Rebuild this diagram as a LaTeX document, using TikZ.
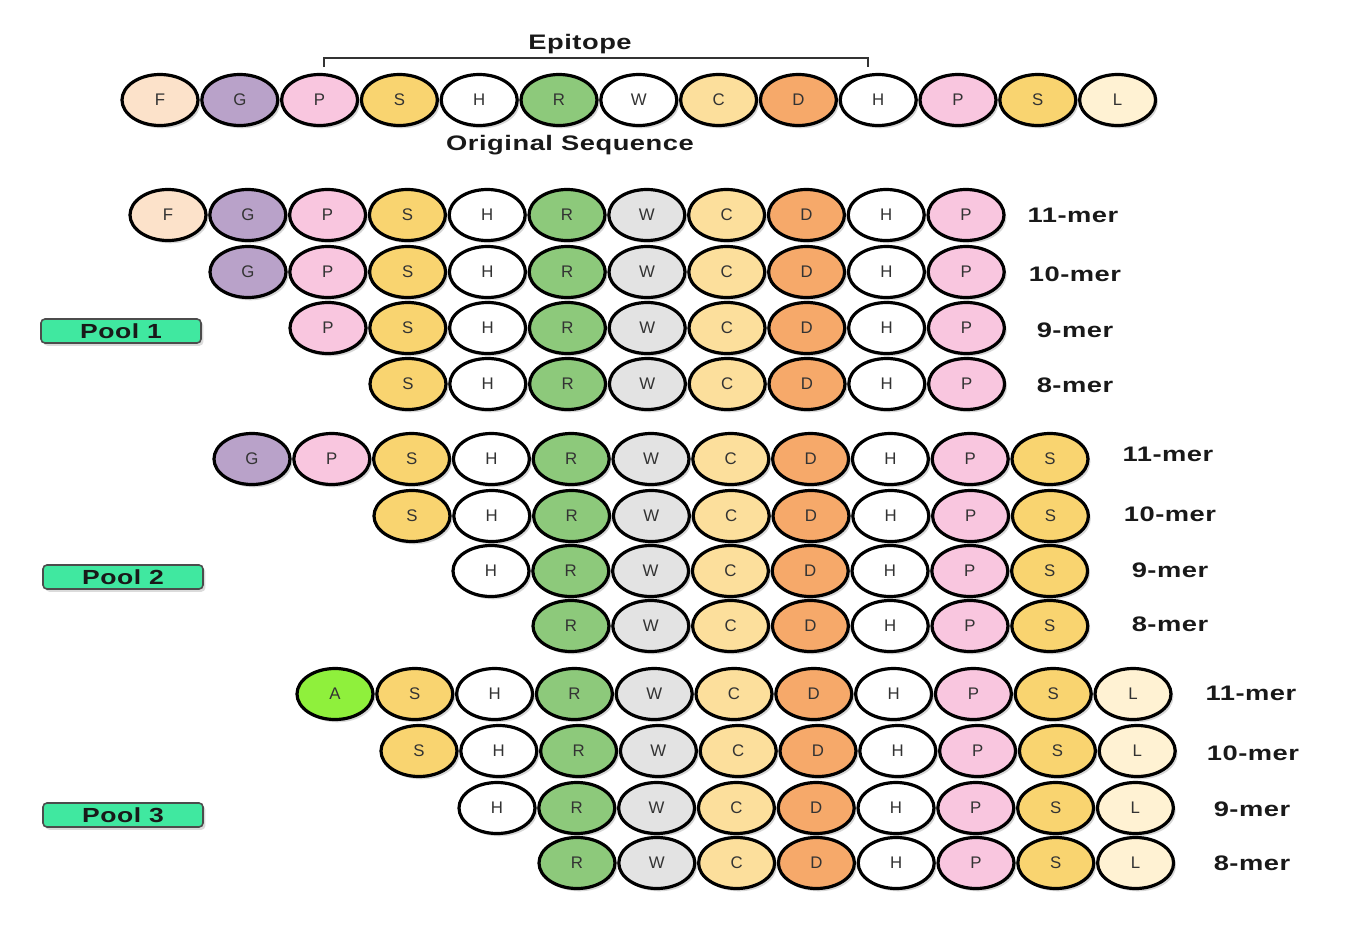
\documentclass[tikz,border=0pt]{standalone}
\usepackage{fontspec}
\setmainfont{Liberation Sans}
\newfontfamily\lblfont{Liberation Sans}[FakeStretch=1.3,LetterSpace=2.5]
\usetikzlibrary{shapes.geometric,shadows}
\definecolor{cF}{HTML}{FCE2CA}
\definecolor{cG}{HTML}{B9A2C9}
\definecolor{cP}{HTML}{F9C6DF}
\definecolor{cS}{HTML}{F9D470}
\definecolor{cH}{HTML}{FFFFFF}
\definecolor{cR}{HTML}{8DC97B}
\definecolor{cW}{HTML}{E3E3E3}
\definecolor{cC}{HTML}{FCDF9C}
\definecolor{cD}{HTML}{F6A96A}
\definecolor{cL}{HTML}{FFF2D3}
\definecolor{cA}{HTML}{8FF03C}
\definecolor{cpool}{HTML}{40E8A0}
\tikzset{
  aa/.style={ellipse, draw=black, line width=1.6pt, minimum width=38pt, minimum height=25.5pt,
    inner sep=0pt, font=\fontsize{8.4}{10}\selectfont, text=black!80,
    drop shadow={shadow xshift=1.2pt, shadow yshift=-1.4pt, opacity=0.22, fill=black!70}},
  mer/.style={font=\lblfont\bfseries\fontsize{10.5}{12}\selectfont, text=black!90, anchor=center},
  ttl/.style={font=\lblfont\bfseries\fontsize{10.5}{12}\selectfont, text=black!90},
  pool/.style={draw=black!70, line width=0.8pt, fill=cpool, rounded corners=2pt,
    minimum width=80pt, minimum height=12pt, inner sep=0pt,
    font=\lblfont\bfseries\fontsize{10.2}{11}\selectfont, text=black!90,
    drop shadow={shadow xshift=1.2pt, shadow yshift=-1.4pt, opacity=0.2, fill=black!70}},
  bracket/.style={draw=black!80, line width=0.6pt}
}
\newcommand\seqrow[4]{%
  \foreach \l [count=\i] in {#4}
    \node[aa, fill=c\l] (#1-\i) at ({#2+79.8*(\i-1)},#3) {\l};%
}
\begin{document}
\begin{tikzpicture}[x=0.5pt,y=-0.5pt]
\useasboundingbox[fill=white] (0,0) rectangle (1372,932);
% original sequence
\foreach \l/\c [count=\i] in {F/cF,G/cG,P/cP,S/cS,H/cH,R/cR,W/white,C/cC,D/cD,H/cH,P/cP,S/cS,L/cL}
  \node[aa, fill=\c] (o-\i) at ({160+79.8*(\i-1)},100) {\l};
\coordinate (bl) at (324,67);
\coordinate (br) at (868,67);
\draw[bracket] (bl) -- ++(0,-9) -| (br);
\node[ttl] (epi) at (580,44) {Epitope};
\node[ttl] (orig) at (570,145) {Original Sequence};
% pool 1
\seqrow{pa}{168}{215}{F,G,P,S,H,R,W,C,D,H,P}
\seqrow{pb}{248}{272}{G,P,S,H,R,W,C,D,H,P}
\seqrow{pc}{328}{328}{P,S,H,R,W,C,D,H,P}
\seqrow{pd}{408}{384}{S,H,R,W,C,D,H,P}
\node[mer] (la) at (1073,215) {11-mer};
\node[mer] (lb) at (1075,274) {10-mer};
\node[mer] (lc) at (1075,330) {9-mer};
\node[mer] (ld) at (1075,385) {8-mer};
\node[pool] (pool1) at (121,331) {Pool 1};
% pool 2
\seqrow{qa}{252}{459}{G,P,S,H,R,W,C,D,H,P,S}
\seqrow{qb}{412}{516}{S,H,R,W,C,D,H,P,S}
\seqrow{qc}{491}{571}{H,R,W,C,D,H,P,S}
\seqrow{qd}{571}{626}{R,W,C,D,H,P,S}
\node[mer] (ma) at (1168,454) {11-mer};
\node[mer] (mb) at (1170,514) {10-mer};
\node[mer] (mc) at (1170,570) {9-mer};
\node[mer] (md) at (1170,624) {8-mer};
\node[pool] (pool2) at (123,577) {Pool 2};
% pool 3
\seqrow{ra}{335}{694}{A,S,H,R,W,C,D,H,P,S,L}
\seqrow{rb}{419}{751}{S,H,R,W,C,D,H,P,S,L}
\seqrow{rc}{497}{808}{H,R,W,C,D,H,P,S,L}
\seqrow{rd}{577}{863}{R,W,C,D,H,P,S,L}
\node[mer] (na) at (1251,693) {11-mer};
\node[mer] (nb) at (1253,753) {10-mer};
\node[mer] (nc) at (1252,809) {9-mer};
\node[mer] (nd) at (1252,863) {8-mer};
\node[pool] (pool3) at (123,815) {Pool 3};
\end{tikzpicture}
\end{document}
